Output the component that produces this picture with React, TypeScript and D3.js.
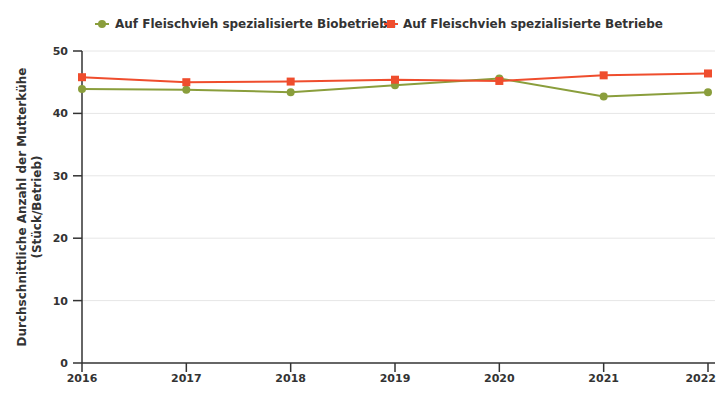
import React from 'react'
import { scaleLinear, line } from 'd3'

const years = [2016, 2017, 2018, 2019, 2020, 2021, 2022]
const bioValues = [43.9, 43.8, 43.4, 44.5, 45.6, 42.7, 43.4]
const allValues = [45.8, 45.0, 45.1, 45.4, 45.2, 46.1, 46.4]
const yTicks = [0, 10, 20, 30, 40, 50]
const seriesNames = ['Auf Fleischvieh spezialisierte Biobetriebe', 'Auf Fleischvieh spezialisierte Betriebe']

const green = '#8a9e3c'
const red = '#ef4d2d'
const font = '"DejaVu Sans", sans-serif'

const App = () => {
  const width = 725
  const height = 400
  const x = scaleLinear().domain([2016, 2022]).range([82, 708])
  const y = scaleLinear().domain([0, 50]).range([363, 51])
  const path = line<number>().x((d, i) => x(years[i])).y(d => y(d))

  return (
    <svg width={width} height={height} style={{ position: 'absolute', left: 0, top: 0 }} fontFamily={font}>
      {yTicks.map(t => (
        <g key={t}>
          {t > 0 && <line x1={82} x2={715} y1={y(t)} y2={y(t)} stroke="#e6e6e6" />}
          <line x1={73} x2={82} y1={y(t)} y2={y(t)} stroke="#333" strokeWidth={1.5} />
          <text x={68} y={y(t) + 4} textAnchor="end" fontSize={11} fontWeight="bold" fill="#333">{t}</text>
        </g>
      ))}
      <line x1={82} x2={82} y1={51} y2={363} stroke="#333" strokeWidth={1.5} />
      <line x1={82} x2={715} y1={363} y2={363} stroke="#333" strokeWidth={1.5} />
      {years.map((yr, i) => {
        const last = i === years.length - 1
        return (
          <g key={yr}>
            <line x1={x(yr)} x2={x(yr)} y1={363} y2={372} stroke="#333" strokeWidth={1.5} />
            <text x={last ? 716 : x(yr)} y={382} textAnchor={last ? 'end' : 'middle'} fontSize={11} fontWeight="bold" fill="#333">{yr}</text>
          </g>
        )
      })}
      <text transform="translate(26,207) rotate(-90)" textAnchor="middle" fontSize={12} fontWeight="bold" fill="#333">
        <tspan x={0} dy={0}>Durchschnittliche Anzahl der Mutterkühe</tspan>
        <tspan x={0} dy={15}>(Stück/Betrieb)</tspan>
      </text>

      <path d={path(bioValues) || ''} fill="none" stroke={green} strokeWidth={2} />
      {bioValues.map((v, i) => (
        <circle key={i} cx={x(years[i])} cy={y(v)} r={4} fill={green} />
      ))}
      <path d={path(allValues) || ''} fill="none" stroke={red} strokeWidth={2} />
      {allValues.map((v, i) => (
        <rect key={i} x={x(years[i]) - 4} y={y(v) - 4} width={8} height={8} fill={red} />
      ))}

      <g>
        <line x1={95} x2={109} y1={24} y2={24} stroke={green} strokeWidth={2} />
        <circle cx={102} cy={24} r={4} fill={green} />
        <text x={115} y={28} fontSize={12} fontWeight="bold" fill="#333">{seriesNames[0]}</text>
        <line x1={384} x2={398} y1={24} y2={24} stroke={red} strokeWidth={2} />
        <rect x={387} y={20} width={8} height={8} fill={red} />
        <text x={403} y={28} fontSize={12} fontWeight="bold" fill="#333">{seriesNames[1]}</text>
      </g>
    </svg>
  )
}

export default App
